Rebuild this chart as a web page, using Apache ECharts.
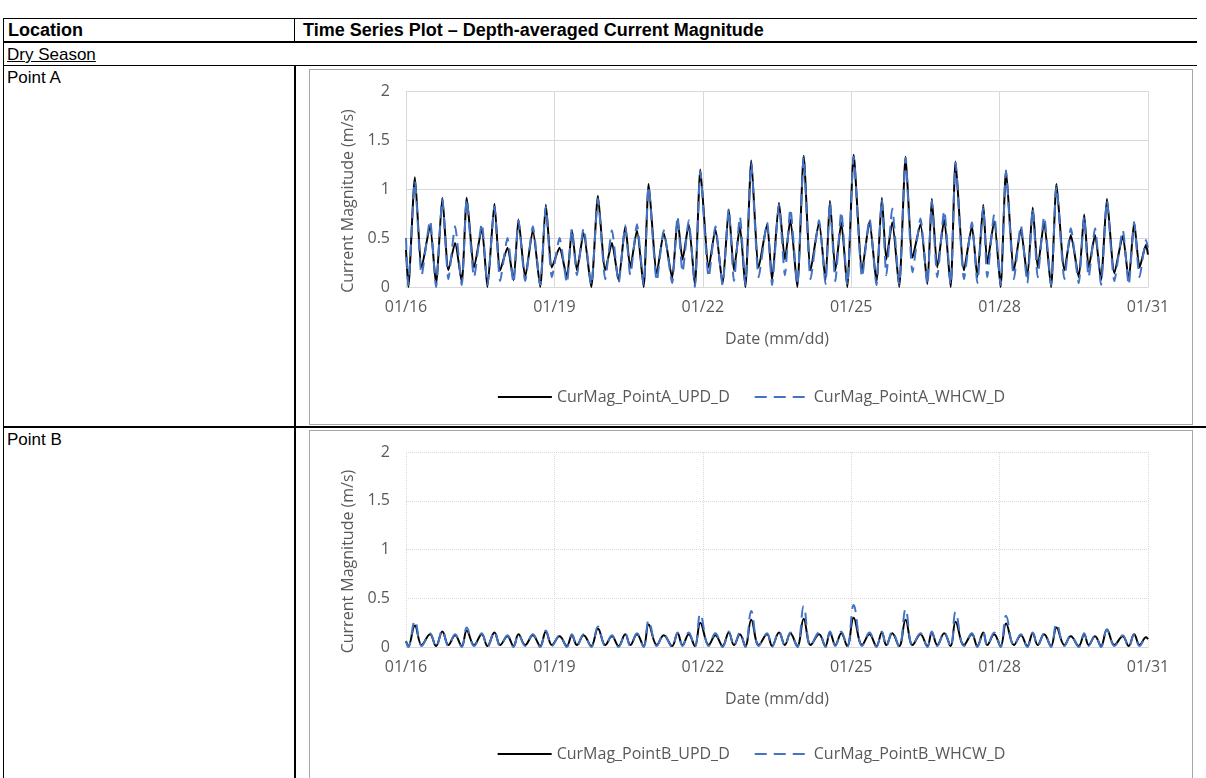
<!DOCTYPE html>
<html>
<head>
<meta charset="utf-8">
<script src="https://cdn.jsdelivr.net/npm/echarts@6/dist/echarts.min.js"></script>
<style>
  body { margin: 0; background: #fff; font-family: "Liberation Sans", Arial, sans-serif; }
  .hl { position: absolute; height: 1px; background: #000; }
  .vl { position: absolute; width: 1px; background: #000; }
  .txt { position: absolute; font-size: 17px; color: #000; white-space: nowrap; }
  .chartbox { position: absolute; border: 1px solid #a6a6a6; background: #fff; }
</style>
</head>
<body>
<!-- table lines -->
<div class="hl" style="left:3px; top:18px; width:1194px;"></div>
<div class="hl" style="left:3px; top:41px; width:1194px; height:2px;"></div>
<div class="hl" style="left:3px; top:65px; width:1194px;"></div>
<div class="hl" style="left:3px; top:426px; width:1203px; height:2px;"></div>
<div class="vl" style="left:3px; top:18px; height:760px;"></div>
<div class="vl" style="left:294px; top:18px; height:24px;"></div>
<div class="vl" style="left:294px; top:65px; height:713px; width:2px;"></div>

<div class="txt" style="left:8px; top:20px; font-weight:bold; font-size:18px;">Location</div>
<div class="txt" style="left:303px; top:20px; font-weight:bold; font-size:18px;">Time Series Plot – Depth-averaged Current Magnitude</div>
<div class="txt" style="left:7px; top:45px; text-decoration:underline;">Dry Season</div>
<div class="txt" style="left:7px; top:68px;">Point A</div>
<div class="txt" style="left:7px; top:430px;">Point B</div>

<div id="chartA" class="chartbox" style="left:309px; top:69px; width:882px; height:354px;"></div>
<div id="chartB" class="chartbox" style="left:309px; top:430px; width:882px; height:360px;"></div>

<script>
// x positions in days from 01/16 00:00
var tickLabels = ['01/16', '01/19', '01/22', '01/25', '01/28', '01/31'];

var tDays = [0.00, 0.047, 0.18, 0.317, 0.486, 0.607, 0.735, 0.857, 0.992, 1.127,
  1.228, 1.377, 1.532, 1.646, 1.788, 1.903, 2.051, 2.173, 2.274, 2.409,
  2.564, 2.713, 2.827, 2.949, 3.104, 3.252, 3.354, 3.455, 3.59, 3.745,
  3.88, 4.028, 4.163, 4.298, 4.433, 4.534, 4.669, 4.804, 4.905, 5.07,
  5.21, 5.38, 5.49, 5.59, 5.715, 5.84, 5.95, 6.12, 6.255, 6.40,
  6.525, 6.63, 6.75, 6.86, 6.98, 7.13, 7.30, 7.40, 7.54, 7.66,
  7.77, 7.91, 8.04, 8.18, 8.35, 8.48, 8.57, 8.68, 8.80, 8.92,
  9.05, 9.22, 9.37, 9.51, 9.62, 9.71, 9.83, 9.97, 10.10, 10.24,
  10.40, 10.54, 10.63, 10.74, 10.88, 11.01, 11.11, 11.28, 11.44, 11.55,
  11.67, 11.75, 11.89, 12.02, 12.13, 12.29, 12.43, 12.56, 12.67, 12.77,
  12.90, 13.04, 13.15, 13.31, 13.44, 13.60, 13.71, 13.80, 13.93, 14.05,
  14.17, 14.32, 14.49, 14.61, 14.72, 14.83, 14.96, 15.0];

var updA = [0.38, 0.0, 1.12, 0.2, 0.62, 0.03, 0.91, 0.17, 0.45, 0.05,
  0.91, 0.2, 0.6, 0.0, 0.85, 0.17, 0.4, 0.07, 0.69, 0.1,
  0.58, 0.0, 0.84, 0.2, 0.4, 0.1, 0.58, 0.17, 0.55, 0.0,
  0.93, 0.17, 0.45, 0.07, 0.62, 0.2, 0.58, 0.0, 1.05, 0.14,
  0.55, 0.09, 0.69, 0.28, 0.64, 0.02, 1.2, 0.2, 0.59, 0.03,
  0.79, 0.17, 0.62, 0.0, 1.29, 0.2, 0.64, 0.07, 0.86, 0.28,
  0.69, 0.0, 1.34, 0.17, 0.66, 0.07, 0.88, 0.17, 0.66, 0.0,
  1.35, 0.17, 0.67, 0.05, 0.91, 0.28, 0.66, 0.0, 1.33, 0.3,
  0.64, 0.03, 0.9, 0.2, 0.69, 0.0, 1.28, 0.17, 0.62, 0.1,
  0.84, 0.24, 0.67, 0.0, 1.19, 0.17, 0.59, 0.1, 0.81, 0.2,
  0.66, 0.0, 1.05, 0.17, 0.53, 0.1, 0.74, 0.2, 0.53, 0.07,
  0.9, 0.14, 0.52, 0.07, 0.66, 0.2, 0.43, 0.33];

var whcwA = [0.5, 0.02, 1.08, 0.12, 0.68, 0.0, 0.9, 0.08, 0.62, 0.02,
  0.9, 0.1, 0.65, 0.02, 0.82, 0.06, 0.5, 0.04, 0.68, 0.06,
  0.62, 0.02, 0.82, 0.1, 0.5, 0.04, 0.6, 0.12, 0.6, 0.02,
  0.9, 0.08, 0.58, 0.04, 0.63, 0.12, 0.64, 0.02, 1.03, 0.06,
  0.58, 0.04, 0.72, 0.15, 0.68, 0.0, 1.18, 0.1, 0.62, 0.02,
  0.8, 0.06, 0.72, 0.02, 1.27, 0.1, 0.66, 0.02, 0.84, 0.12,
  0.8, 0.02, 1.33, 0.08, 0.68, 0.03, 0.87, 0.06, 0.77, 0.02,
  1.33, 0.1, 0.7, 0.02, 0.9, 0.12, 0.8, 0.02, 1.32, 0.15,
  0.7, 0.02, 0.88, 0.1, 0.78, 0.02, 1.27, 0.08, 0.66, 0.04,
  0.82, 0.1, 0.74, 0.02, 1.18, 0.08, 0.63, 0.04, 0.8, 0.1,
  0.72, 0.02, 1.03, 0.08, 0.6, 0.04, 0.72, 0.1, 0.6, 0.02,
  0.88, 0.06, 0.58, 0.02, 0.66, 0.1, 0.48, 0.4];

var updB = [0.06, 0.01, 0.22, 0.02, 0.13, 0.01, 0.16, 0.02, 0.12, 0.01,
  0.17, 0.02, 0.13, 0.01, 0.15, 0.02, 0.11, 0.01, 0.13, 0.02,
  0.12, 0.01, 0.16, 0.02, 0.11, 0.01, 0.12, 0.02, 0.12, 0.01,
  0.19, 0.02, 0.11, 0.01, 0.13, 0.02, 0.13, 0.01, 0.23, 0.02,
  0.12, 0.01, 0.14, 0.02, 0.13, 0.01, 0.25, 0.02, 0.12, 0.01,
  0.15, 0.02, 0.13, 0.01, 0.28, 0.02, 0.13, 0.01, 0.15, 0.02,
  0.14, 0.01, 0.29, 0.02, 0.13, 0.01, 0.15, 0.02, 0.14, 0.01,
  0.3, 0.02, 0.13, 0.01, 0.15, 0.02, 0.14, 0.01, 0.28, 0.02,
  0.13, 0.01, 0.15, 0.02, 0.14, 0.01, 0.26, 0.02, 0.13, 0.01,
  0.15, 0.02, 0.13, 0.01, 0.24, 0.02, 0.12, 0.01, 0.14, 0.02,
  0.13, 0.01, 0.2, 0.02, 0.11, 0.01, 0.13, 0.02, 0.11, 0.01,
  0.18, 0.02, 0.11, 0.01, 0.13, 0.02, 0.1, 0.08];

var whcwB = [0.06, 0.0, 0.27, 0.01, 0.14, 0.0, 0.17, 0.01, 0.13, 0.0,
  0.2, 0.01, 0.14, 0.0, 0.16, 0.01, 0.12, 0.0, 0.13, 0.01,
  0.13, 0.0, 0.17, 0.01, 0.12, 0.0, 0.13, 0.01, 0.13, 0.0,
  0.21, 0.01, 0.12, 0.0, 0.14, 0.01, 0.14, 0.0, 0.27, 0.01,
  0.13, 0.0, 0.15, 0.01, 0.15, 0.0, 0.34, 0.01, 0.14, 0.0,
  0.16, 0.01, 0.15, 0.0, 0.37, 0.01, 0.14, 0.0, 0.16, 0.01,
  0.15, 0.0, 0.42, 0.01, 0.15, 0.0, 0.16, 0.01, 0.16, 0.0,
  0.43, 0.01, 0.15, 0.0, 0.16, 0.01, 0.16, 0.0, 0.39, 0.01,
  0.14, 0.0, 0.16, 0.01, 0.15, 0.0, 0.36, 0.01, 0.14, 0.0,
  0.15, 0.01, 0.15, 0.0, 0.32, 0.01, 0.13, 0.0, 0.15, 0.01,
  0.14, 0.0, 0.24, 0.01, 0.12, 0.0, 0.14, 0.01, 0.12, 0.0,
  0.18, 0.01, 0.12, 0.0, 0.13, 0.01, 0.1, 0.09];

function pairs(vals) {
  return tDays.map(function (t, i) { return [t, vals[i]]; });
}

function drawChart(id, names, updVals, whcwVals, gridType, smooth, gridBottom, legendTop) {
  var myChart = echarts.init(document.getElementById(id));
  var font = '"Open Sans", "Noto Sans", sans-serif';
  var option = {
    animation: false,
    textStyle: { fontFamily: font },
    grid: { left: 96, right: 44, top: 21, bottom: gridBottom },
    xAxis: {
      type: 'value', min: 0, max: 15, interval: 3,
      axisLine: { lineStyle: { color: '#d9d9d9' } },
      axisTick: { show: false },
      splitLine: { show: true, lineStyle: { color: '#d9d9d9', type: gridType } },
      axisLabel: { color: '#595959', fontSize: 16, margin: 12,
        formatter: function (v) { return tickLabels[Math.round(v / 3)]; } },
      name: 'Date (mm/dd)', nameLocation: 'middle', nameGap: 44,
      nameTextStyle: { color: '#595959', fontSize: 16 }
    },
    yAxis: {
      type: 'value', min: 0, max: 2, interval: 0.5,
      axisLine: { show: false },
      axisTick: { show: false },
      splitLine: { lineStyle: { color: '#d9d9d9', type: gridType } },
      axisLabel: { color: '#595959', fontSize: 16, margin: 16 },
      name: 'Current Magnitude (m/s)', nameLocation: 'middle', nameGap: 50,
      nameTextStyle: { color: '#595959', fontSize: 16, padding: [0, 24, 0, 0] }
    },
    legend: {
      top: legendTop, left: 'center', itemWidth: 54, itemHeight: 14, itemGap: 24,
      itemStyle: { opacity: 0 },
      textStyle: { color: '#595959', fontSize: 16 },
      data: names
    },
    series: [
      { name: names[0], type: 'line', data: pairs(updVals), symbol: 'none', smooth: smooth,
        lineStyle: { color: '#000000', width: 2 }, itemStyle: { color: '#000000' } },
      { name: names[1], type: 'line', data: pairs(whcwVals), symbol: 'none', smooth: smooth,
        lineStyle: { color: '#4472c4', width: 2, type: [12, 7] }, itemStyle: { color: '#4472c4' } }
    ]
  };
  myChart.setOption(option);
}

drawChart('chartA', ['CurMag_PointA_UPD_D', 'CurMag_PointA_WHCW_D'], updA, whcwA, 'solid', 0.2, 137, 314);
drawChart('chartB', ['CurMag_PointB_UPD_D', 'CurMag_PointB_WHCW_D'], updB, whcwB, 'dotted', 0.4, 144, 310);
</script>
</body>
</html>
